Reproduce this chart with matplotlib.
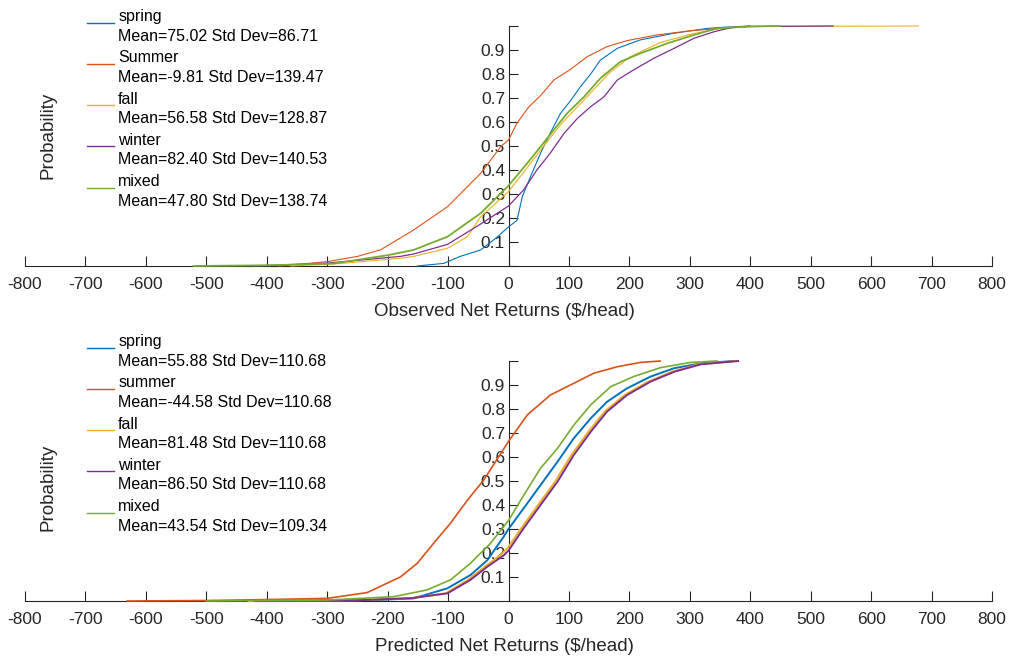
import matplotlib
matplotlib.use("Agg")
import matplotlib.pyplot as plt
import numpy as np

plt.rcParams['font.family'] = ['Liberation Sans', 'DejaVu Sans']
plt.rcParams['axes.unicode_minus'] = False

# MATLAB default line colours
colors = {'spring': '#0072BD', 'summer': '#D95319', 'fall': '#EDB120',
          'winter': '#7E2F8E', 'mixed': '#77AC30'}
axis_color = '#262626'

spring_obs_x = [-151, -107, -80, -46, -19, 0, 14, 23, 36, 53, 69, 86, 103, 119, 136, 152, 180, 218, 274, 329, 357, 400]
spring_obs_p = [0, 0.011, 0.04, 0.067, 0.12, 0.163, 0.19, 0.29, 0.37, 0.47, 0.553, 0.636, 0.69, 0.747, 0.80, 0.858, 0.907, 0.942, 0.97, 0.99, 0.995, 1.0]

summer_obs_x = [-380, -300, -250, -212, -157, -101, -46, -13, 0, 14, 34, 53, 75, 103, 130, 163, 196, 246, 301, 350, 400]
summer_obs_p = [0, 0.018, 0.04, 0.067, 0.15, 0.247, 0.386, 0.497, 0.525, 0.595, 0.664, 0.71, 0.775, 0.82, 0.872, 0.914, 0.939, 0.963, 0.98, 0.99, 1.0]

fall_obs_x = [-360, -280, -179, -157, -101, -68, -46, 0, 31, 58, 90, 128, 165, 200, 250, 300, 350, 400, 678]
fall_obs_p = [0, 0.01, 0.032, 0.04, 0.074, 0.122, 0.205, 0.31, 0.41, 0.5, 0.6, 0.7, 0.8, 0.87, 0.93, 0.965, 0.99, 0.998, 1.0]

winter_obs_x = [-420, -300, -179, -157, -101, -46, 0, 25, 47, 69, 92, 114, 136, 158, 180, 207, 240, 274, 307, 340, 368, 400, 537]
winter_obs_p = [0, 0.012, 0.04, 0.05, 0.09, 0.175, 0.25, 0.317, 0.40, 0.47, 0.553, 0.615, 0.664, 0.705, 0.775, 0.817, 0.865, 0.907, 0.949, 0.976, 0.993, 0.998, 1.0]

mixed_obs_x = [-521, -400, -290, -200, -157, -101, -46, 0, 31, 53, 75, 97, 125, 152, 185, 218, 263, 307, 345, 400, 450]
mixed_obs_p = [0, 0.003, 0.01, 0.045, 0.067, 0.122, 0.22, 0.335, 0.428, 0.497, 0.567, 0.636, 0.705, 0.782, 0.851, 0.886, 0.928, 0.963, 0.99, 0.998, 1.0]

# ---- predicted net returns ----
spring_pred_x = [-400, -212, -157, -101, -63, -35, -8, 0, 25, 53, 81, 108, 136, 163, 196, 235, 274, 318, 372]
spring_pred_p = [0, 0.005, 0.011, 0.053, 0.108, 0.17, 0.268, 0.30, 0.386, 0.483, 0.58, 0.678, 0.761, 0.83, 0.886, 0.935, 0.97, 0.99, 1.0]

summer_pred_x = [-631, -500, -400, -300, -234, -179, -151, -124, -96, -68, -41, 0, 31, 69, 108, 141, 180, 218, 251]
summer_pred_p = [0, 0.002, 0.006, 0.011, 0.035, 0.10, 0.157, 0.24, 0.324, 0.42, 0.504, 0.665, 0.775, 0.858, 0.907, 0.949, 0.976, 0.994, 1.0]

fall_pred_x = [-430, -250, -160, -104, -67, -39, -12, 0, 21, 49, 77, 104, 132, 159, 192, 231, 270, 314, 378]
fall_pred_p = [0, 0.003, 0.012, 0.032, 0.088, 0.143, 0.195, 0.225, 0.303, 0.40, 0.497, 0.608, 0.705, 0.789, 0.858, 0.914, 0.955, 0.986, 1.0]

winter_pred_x = [-420, -250, -160, -101, -63, -35, -8, 0, 25, 53, 81, 108, 136, 163, 196, 235, 274, 318, 380]
winter_pred_p = [0, 0.003, 0.012, 0.032, 0.088, 0.143, 0.19, 0.21, 0.303, 0.40, 0.497, 0.608, 0.705, 0.789, 0.858, 0.914, 0.955, 0.986, 1.0]

mixed_pred_x = [-500, -300, -190, -135, -96, -63, -30, 0, 25, 53, 81, 108, 136, 169, 207, 251, 301, 345]
mixed_pred_p = [0, 0.004, 0.018, 0.046, 0.088, 0.157, 0.24, 0.335, 0.44, 0.553, 0.636, 0.733, 0.817, 0.893, 0.935, 0.972, 0.994, 1.0]

obs_labels = ['spring\nMean=75.02 Std Dev=86.71',
              'Summer\nMean=-9.81 Std Dev=139.47',
              'fall\nMean=56.58 Std Dev=128.87',
              'winter\nMean=82.40 Std Dev=140.53',
              'mixed\nMean=47.80 Std Dev=138.74']
pred_labels = ['spring\nMean=55.88 Std Dev=110.68',
               'summer\nMean=-44.58 Std Dev=110.68',
               'fall\nMean=81.48 Std Dev=110.68',
               'winter\nMean=86.50 Std Dev=110.68',
               'mixed\nMean=43.54 Std Dev=109.34']

obs_series = [(spring_obs_x, spring_obs_p, 'spring', 0.8),
              (summer_obs_x, summer_obs_p, 'summer', 0.8),
              (fall_obs_x, fall_obs_p, 'fall', 0.8),
              (winter_obs_x, winter_obs_p, 'winter', 0.9),
              (mixed_obs_x, mixed_obs_p, 'mixed', 1.3)]
pred_series = [(spring_pred_x, spring_pred_p, 'spring', 1.4),
               (summer_pred_x, summer_pred_p, 'summer', 1.2),
               (fall_pred_x, fall_pred_p, 'fall', 1.4),
               (winter_pred_x, winter_pred_p, 'winter', 1.4),
               (mixed_pred_x, mixed_pred_p, 'mixed', 1.2)]

fig = plt.figure(figsize=(10.14, 6.59), dpi=100)
W, H = 1014, 659
ax_top = fig.add_axes([25 / W, 1 - 266 / H, 967 / W, 240 / H])
ax_bot = fig.add_axes([25 / W, 1 - 601 / H, 967 / W, 240 / H])


def style_axis(ax, series, labels, xlabel, ylab_y, leg_top):
    for (x, p, key, lw), lab in zip(series, labels):
        ax.plot(x, p, color=colors[key], lw=lw, label=lab, zorder=3, clip_on=False)
    ax.set_xlim(-800, 800)
    ax.set_ylim(0, 1)
    ax.spines['left'].set_position(('data', 0))
    ax.spines['bottom'].set_position(('data', 0))
    ax.spines['top'].set_visible(False)
    ax.spines['right'].set_visible(False)
    for s in ('left', 'bottom'):
        ax.spines[s].set_color(axis_color)
        ax.spines[s].set_linewidth(0.8)
    ax.set_xticks(np.arange(-800, 801, 100))
    ax.set_yticks(np.arange(0, 1.01, 0.1))
    ax.set_yticklabels(['' if i in (0, 10) else '0.%d' % i for i in range(11)])
    ax.tick_params(axis='x', direction='in', length=7, width=0.8, pad=8,
                   colors=axis_color, labelsize=12.5)
    ax.tick_params(axis='y', direction='in', length=6.5, width=0.8, pad=2.5,
                   colors=axis_color, labelsize=12.5)
    ax.set_xlabel(xlabel, fontsize=13.5, color=axis_color)
    ax.xaxis.set_label_coords(0.496, -0.155)
    ax.set_ylabel('Probability', fontsize=13.5, color=axis_color, va='center')
    ax.yaxis.set_label_coords(0.0238, ylab_y)
    ax.patch.set_visible(False)
    leg = ax.legend(loc='upper left', bbox_to_anchor=(87 / W, 1 - leg_top / H),
                    bbox_transform=fig.transFigure, frameon=False, fontsize=11.5,
                    handlelength=1.7, handletextpad=0.25, borderpad=0,
                    labelspacing=0.42, borderaxespad=0)
    for t in leg.get_texts():
        t.set_linespacing(1.38)
        t.set_color('black')
    for h in leg.get_lines():
        h.set_linewidth(1.0)
        # raise the handle a little, as in the original legend
        h.set_ydata(np.asarray(h.get_ydata()) + 3)


style_axis(ax_top, obs_series, obs_labels, 'Observed Net Returns ($/head)', 0.545, 9)
style_axis(ax_bot, pred_series, pred_labels, 'Predicted Net Returns ($/head)', 0.475, 334)

fig.savefig('out.png', dpi=100)
